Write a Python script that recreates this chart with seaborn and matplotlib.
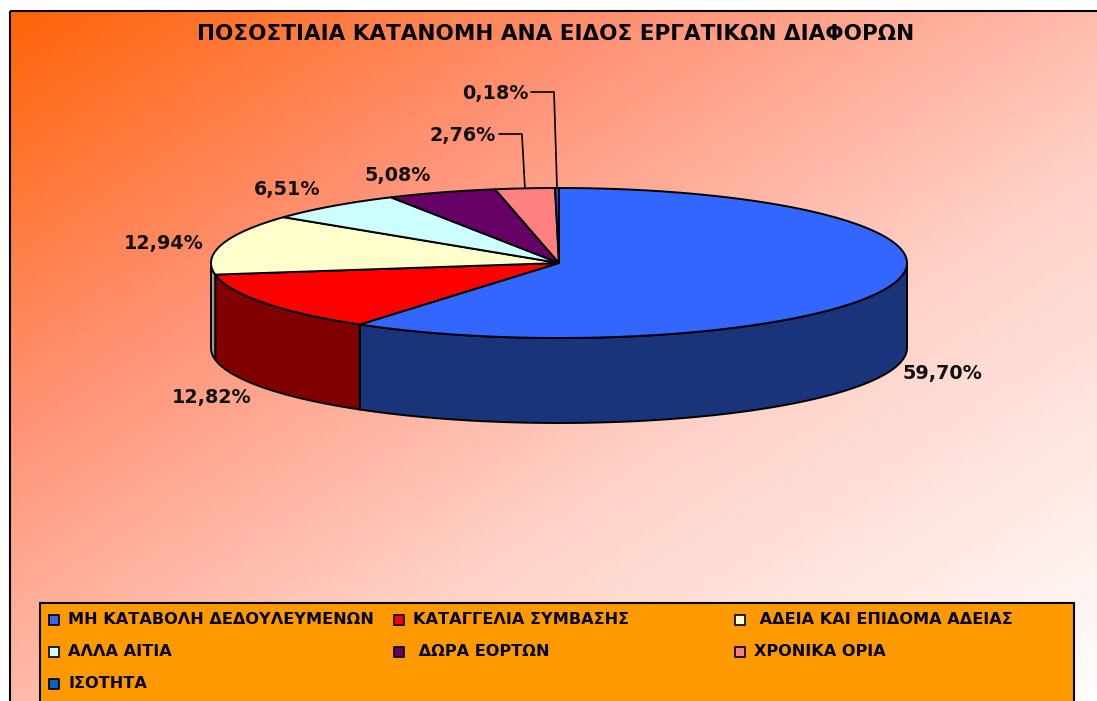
import numpy as np
import matplotlib
matplotlib.use("Agg")
import matplotlib.pyplot as plt
from matplotlib.patches import Polygon, Rectangle
from matplotlib.colors import LinearSegmentedColormap
import seaborn as sns

# data
categories = ["ΜΗ ΚΑΤΑΒΟΛΗ ΔΕΔΟΥΛΕΥΜΕΝΩΝ", "ΚΑΤΑΓΓΕΛΙΑ ΣΥΜΒΑΣΗΣ", " ΑΔΕΙΑ ΚΑΙ ΕΠΙΔΟΜΑ ΑΔΕΙΑΣ",
              "ΑΛΛΑ ΑΙΤΙΑ", " ΔΩΡΑ ΕΟΡΤΩΝ", "ΧΡΟΝΙΚΑ ΟΡΙΑ", "ΙΣΟΤΗΤΑ"]
values = [59.70, 12.82, 12.94, 6.51, 5.08, 2.76, 0.18]
labels = ["59,70%", "12,82%", "12,94%", "6,51%", "5,08%", "2,76%", "0,18%"]
title = "ΠΟΣΟΣΤΙΑΙΑ ΚΑΤΑΝΟΜΗ ΑΝΑ ΕΙΔΟΣ ΕΡΓΑΤΙΚΩΝ ΔΙΑΦΟΡΩΝ"

top_colors = ["#3366FF", "#FF0000", "#FFFFCC", "#CCFFFF", "#660066", "#FF8080", "#0066CC"]
side_colors = ["#1A347C", "#800000", "#9C9C80", "#8CB0B0", "#330033", "#B05858", "#003366"]

sns.set_theme(style="white")
plt.rcParams['font.family'] = ['DejaVu Sans']
plt.rcParams['text.color'] = 'black'

W, H = 1097, 701
fig = plt.figure(figsize=(W / 100, H / 100), dpi=100)
ax = fig.add_axes([0, 0, 1, 1])
ax.set_xlim(0, W)
ax.set_ylim(H, 0)
ax.axis("off")

# background gradient (chart area runs past the right and bottom edges)
bx0, by0, bx1, by1 = 10, 11, 1105, 720
gx, gy = np.meshgrid(np.linspace(0, 1, 300), np.linspace(0, 1, 200))
t = (gx + gy) / 2
cmap = LinearSegmentedColormap.from_list("bg", [(0, "#FF6408"), (0.3, "#FF9478"), (0.6, "#FFD0C6"), (1, "#FFFFFF")])
ax.imshow(t, cmap=cmap, extent=(bx0, bx1, by1, by0), aspect="auto", zorder=0, vmin=0, vmax=1)
ax.add_patch(Rectangle((bx0, by0), bx1 - bx0, by1 - by0, fill=False, ec="black", lw=1.5, zorder=1))

# pie geometry
cx, cy, rx, ry, depth = 559, 263, 348, 75, 85
pal = sns.color_palette(top_colors)
fracs = np.array(values) / np.sum(values)
ends = 90 - 360 * np.cumsum(fracs)
starts = np.concatenate([[90], ends[:-1]])


def arc(a1, a2, dy=0, n=120):
    th = np.radians(np.linspace(a1, a2, n))
    return np.column_stack([cx + rx * np.cos(th), cy - ry * np.sin(th) + dy])


# side walls (front half: angles 180..360)
for i, (s, e) in enumerate(zip(starts, ends)):
    lo, hi = e % 360, s % 360
    if hi < lo:
        hi += 360
    for off in (0, 360, -360):
        a1, a2 = max(lo, 180 + off), min(hi, 360 + off)
        if a2 > a1:
            top = arc(a1, a2)
            bot = arc(a2, a1, depth)
            ax.add_patch(Polygon(np.vstack([top, bot]), closed=True, fc=side_colors[i],
                                 ec="black", lw=1.4, zorder=2))

# top faces
for i, (s, e) in enumerate(zip(starts, ends)):
    pts = np.vstack([[cx, cy], arc(s, e)])
    ax.add_patch(Polygon(pts, closed=True, fc=pal[i], ec="black", lw=1.4, zorder=3))

# percentage labels
label_pos = [(943, 373), (212, 398), (164, 243), (287, 190), (398, 176), (463, 135), (495, 93)]
for (x, y), lab in zip(label_pos, labels):
    ax.text(x, y, lab, ha="center", va="center", fontsize=13.8, fontweight="bold", color="#111111", zorder=5)

# leader lines for the small slices
for (x, y), i in zip(label_pos[5:], [5, 6]):
    mid = np.radians((starts[i] + ends[i]) / 2)
    ex, ey = cx + rx * np.cos(mid), cy - ry * np.sin(mid)
    ax.plot([x + 36, ex - 3, ex], [y - 1, y - 1, ey], color="black", lw=1.2, zorder=4)

# title
ax.text(556, 34, title, ha="center", va="center", fontsize=15.5, fontweight="bold",
        color="black", zorder=5)

# legend
ax.add_patch(Rectangle((40, 603), 1034, 120, fc="#FF9900", ec="black", lw=1.5, zorder=4))
col_x = [49, 394, 735]
row_y = [620, 652, 684]
for k, (name, c) in enumerate(zip(categories, pal)):
    r, col = divmod(k, 3)
    x, y = col_x[col], row_y[r]
    ax.add_patch(Rectangle((x, y - 5), 10, 10, fc=c, ec="black", lw=1.2, zorder=5))
    ax.text(x + 19, y, name, ha="left", va="center", fontsize=11.6, fontweight="bold",
            color="black", zorder=5)

fig.savefig("out.png", dpi=100)
